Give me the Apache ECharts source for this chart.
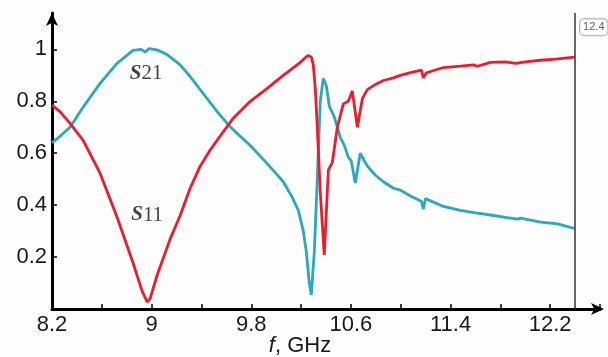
<!DOCTYPE html>
<html>
<head>
<meta charset="utf-8">
<script src="https://cdn.jsdelivr.net/npm/echarts@6/dist/echarts.min.js"></script>
<style>
html,body{margin:0;padding:0;background:#fdfdfd;}
#chart{width:608px;height:357px;}
</style>
</head>
<body>
<div id="chart"></div>
<script>
// Frequencies (GHz) and values for S11 (red)
var s11Freq = [8.20,8.264,8.345,8.449,8.586,8.722,8.851,8.923,8.964,8.988,9.044,9.149,9.229,9.309,9.39,9.46,9.526,9.655,9.792,9.928,10.057,10.194,10.234,10.258,10.282,10.298,10.314,10.33,10.354,10.386,10.419,10.451,10.491,10.539,10.579,10.611,10.627,10.652,10.692,10.732,10.797,10.861,10.941,10.997,11.078,11.166,11.182,11.206,11.343,11.48,11.584,11.616,11.721,11.841,11.922,12.002,12.123,12.243,12.396];
var s11Vals = [0.785,0.76,0.715,0.65,0.523,0.354,0.177,0.07,0.027,0.04,0.13,0.27,0.36,0.465,0.55,0.605,0.65,0.735,0.80,0.85,0.90,0.95,0.968,0.977,0.97,0.94,0.85,0.70,0.45,0.208,0.535,0.565,0.70,0.79,0.80,0.84,0.84,0.70,0.81,0.845,0.865,0.88,0.89,0.90,0.91,0.92,0.89,0.91,0.93,0.935,0.94,0.935,0.95,0.952,0.946,0.952,0.958,0.962,0.97];
// Frequencies (GHz) and values for S21 (cyan)
var s21Freq = [8.20,8.264,8.345,8.449,8.586,8.722,8.851,8.915,8.948,8.98,9.044,9.124,9.229,9.309,9.414,9.526,9.615,9.711,9.792,9.928,10.057,10.129,10.178,10.218,10.242,10.266,10.282,10.306,10.33,10.354,10.378,10.403,10.427,10.467,10.515,10.547,10.579,10.603,10.635,10.675,10.732,10.797,10.861,10.941,10.997,11.078,11.166,11.182,11.198,11.343,11.48,11.601,11.616,11.721,11.841,11.938,11.962,12.123,12.26,12.396];
var s21Vals = [0.64,0.665,0.70,0.777,0.869,0.946,0.996,1.0,0.99,1.003,0.998,0.98,0.94,0.895,0.83,0.76,0.71,0.665,0.63,0.56,0.49,0.43,0.38,0.30,0.22,0.10,0.054,0.22,0.50,0.80,0.888,0.86,0.78,0.74,0.66,0.63,0.585,0.57,0.485,0.60,0.55,0.515,0.49,0.465,0.458,0.435,0.415,0.385,0.425,0.395,0.38,0.37,0.375,0.362,0.353,0.346,0.35,0.335,0.328,0.31];
var xTickLabels = ['8.2','9','9.8','10.6','11.4','12.2'];
var yTickLabels = ['0.2','0.4','0.6','0.8','1'];
var markerFreq = 12.4;
var curveLabels = [
  {name:'S11', f:8.964, v:0.362},
  {name:'S21', f:8.956, v:0.908}
];

function zip(a,b){ return a.map(function(x,i){ return [x,b[i]]; }); }

var chart = echarts.init(document.getElementById('chart'), null, {renderer:'canvas'});
var FONT = 'Liberation Sans, Arial, sans-serif';
var axisFont = {fontFamily:FONT, fontSize:22, color:'#1a1a1a'};

var option = {
  backgroundColor:'#fdfdfd',
  animation:false,
  grid:{left:52,right:8,top:13,bottom:48,containLabel:false,outerBoundsMode:'none'},
  xAxis:{
    type:'value', min:8.2, max:12.6, interval:0.4,
    splitLine:{show:false},
    axisLine:{onZero:false, lineStyle:{color:'#000',width:3}, symbol:['none','arrow'], symbolSize:[9,13], symbolOffset:[0,4]},
    axisTick:{show:true, inside:true, length:5, lineStyle:{color:'#000',width:1.5}},
    axisLabel:Object.assign({margin:5, formatter:function(v){
      var s = String(Number(v.toFixed(1)));
      return xTickLabels.indexOf(s) >= 0 ? s : '';
    }}, axisFont),
    name:'{i|f}, GHz', nameLocation:'middle', nameGap:26, nameMoveOverlap:false,
    nameTextStyle:{fontFamily:FONT, fontSize:22, color:'#1a1a1a', padding:[0,52,0,0], verticalAlign:'top',
      rich:{i:{fontStyle:'italic', fontFamily:FONT, fontSize:22, color:'#1a1a1a'}}}
  },
  yAxis:{
    type:'value', min:0, max:1.14, interval:0.2,
    splitLine:{show:false},
    axisLine:{onZero:false, lineStyle:{color:'#000',width:3}, symbol:['none','arrow'], symbolSize:[9,13]},
    axisTick:{show:true, inside:true, length:5, lineStyle:{color:'#000',width:1.5}},
    axisLabel:Object.assign({margin:5, showMinLabel:false, showMaxLabel:false, formatter:function(v){
      var s = String(Number(v.toFixed(1)));
      return yTickLabels.indexOf(s) >= 0 ? s : '';
    }}, axisFont)
  },
  series:[
    {
      name:'S21', type:'line', data:zip(s21Freq,s21Vals), showSymbol:false, symbol:'none',
      lineStyle:{color:'#2aa8bd', width:2.8}, z:3
    },
    {
      name:'S11', type:'line', data:zip(s11Freq,s11Vals), showSymbol:false, symbol:'none',
      lineStyle:{color:'#ec1c2c', width:2.8}, z:4,
      markLine:{
        silent:true, symbol:['none','none'], label:{show:false},
        lineStyle:{color:'#333', width:1.5, type:'solid'},
        data:[[{coord:[markerFreq,0]},{coord:[markerFreq,1.14]}]]
      }
    },
    {
      type:'scatter', symbolSize:0, z:5,
      data:curveLabels.map(function(c){ return {name:c.name, value:[c.f,c.v]}; }),
      label:{show:true, position:'inside', formatter:function(p){
        return '{s|S}{n|' + p.name.slice(1) + '}';
      }, rich:{
        s:{fontFamily:'Liberation Serif, DejaVu Serif, serif', fontStyle:'italic', fontWeight:'bold', fontSize:21, color:'#111'},
        n:{fontFamily:'Liberation Serif, DejaVu Serif, serif', fontSize:21, color:'#111'}
      }}
    },
    {
      type:'scatter', symbolSize:0, z:5,
      data:[[markerFreq,1.085]],
      label:{show:true, position:'right', distance:5, formatter:function(){ return String(markerFreq); },
        fontFamily:FONT, fontSize:11, color:'#333',
        backgroundColor:'#fff', borderColor:'#999', borderWidth:1, borderRadius:4, padding:[3,3,2,3]}
    }
  ]
};
chart.setOption(option);
</script>
</body>
</html>
